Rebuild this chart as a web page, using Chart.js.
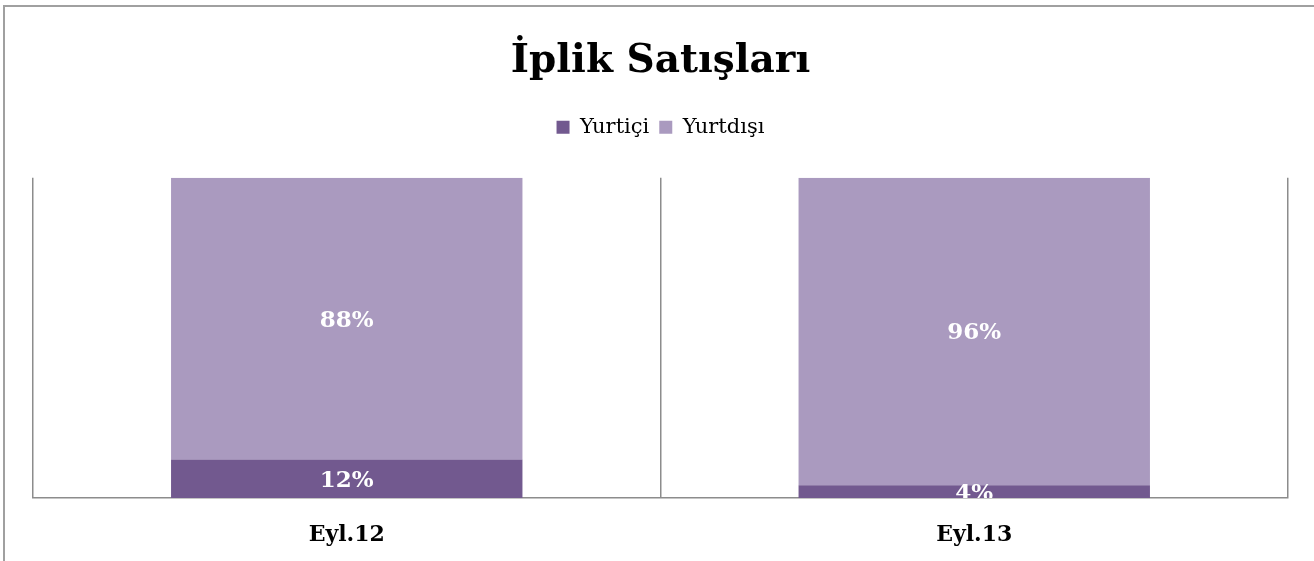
<!DOCTYPE html>
<html>
<head>
<meta charset="utf-8">
<script src="https://cdn.jsdelivr.net/npm/chart.js@4"></script>
<style>
  html, body { margin: 0; padding: 0; background: #fff; overflow: hidden; }
  #frame { position: absolute; left: 3px; top: 5px; width: 1330px; height: 580px; border: 2px solid #a0a0a0; box-sizing: border-box; }
  #wrap { position: absolute; left: 0; top: 0; width: 1314px; height: 561px; }
</style>
</head>
<body>
<div id="frame"></div>
<div id="wrap"><canvas id="myChart"></canvas></div>
<script>
const categories = ["Eyl.12", "Eyl.13"];
const seriesNames = ["Yurtiçi", "Yurtdışı"];
const yurtici = [12, 4];
const yurtdisi = [88, 96];

const FONT = "'DejaVu Serif', serif";

// white percent labels in the middle of each segment, clipped to the plot
const segmentLabels = {
  id: "segmentLabels",
  afterDatasetsDraw(chart) {
    const ctx = chart.ctx;
    const area = chart.chartArea;
    ctx.save();
    ctx.beginPath();
    ctx.rect(area.left, area.top, area.right - area.left, area.bottom - area.top);
    ctx.clip();
    ctx.fillStyle = "#ffffff";
    ctx.font = "bold 23px " + FONT;
    ctx.textAlign = "center";
    ctx.textBaseline = "middle";
    chart.data.datasets.forEach((ds, i) => {
      const meta = chart.getDatasetMeta(i);
      meta.data.forEach((bar, j) => {
        const p = bar.getProps(["x", "y", "base"], true);
        ctx.fillText(ds.data[j] + "%", p.x, (p.y + p.base) / 2 + 2);
      });
    });
    ctx.restore();
  },
};

// extra room under the legend
const legendGap = {
  id: "legendGap",
  beforeInit(chart) {
    const fit = chart.legend.fit;
    chart.legend.fit = function () {
      fit.bind(chart.legend)();
      this.height += 30;
    };
  },
};

const config = {
  type: "bar",
  data: {
    labels: categories,
    datasets: [
      {
        label: seriesNames[0],
        data: yurtici,
        backgroundColor: "#72598f",
      },
      {
        label: seriesNames[1],
        data: yurtdisi,
        backgroundColor: "#aa9abf",
      },
    ],
  },
  options: {
    responsive: true,
    maintainAspectRatio: false,
    animation: false,
    barPercentage: 0.56,
    categoryPercentage: 1,
    layout: {
      padding: { left: 33, right: 26, top: 0, bottom: 0 },
    },
    scales: {
      x: {
        stacked: true,
        offset: true,
        afterFit(scale) {
          scale.height = 63;
        },
        grid: {
          offset: true,
          drawTicks: false,
          color: "#8c8c8c",
          lineWidth: 1.5,
        },
        border: { display: true, color: "#8c8c8c", width: 1.5 },
        ticks: {
          padding: 24,
          color: "#000",
          font: { family: FONT, size: 22, weight: "bold" },
        },
      },
      y: {
        stacked: true,
        display: false,
        min: 0,
        max: 100,
      },
    },
    plugins: {
      title: {
        display: true,
        text: "İplik Satışları",
        color: "#000",
        font: { family: FONT, size: 39, weight: "bold" },
        padding: { top: 38, bottom: 22 },
      },
      legend: {
        display: true,
        labels: {
          color: "#000",
          boxWidth: 13,
          boxHeight: 13,
          padding: 10,
          font: { family: FONT, size: 21 },
        },
      },
      tooltip: { enabled: false },
    },
  },
  plugins: [segmentLabels, legendGap],
};

new Chart(document.getElementById("myChart"), config);
</script>
</body>
</html>
